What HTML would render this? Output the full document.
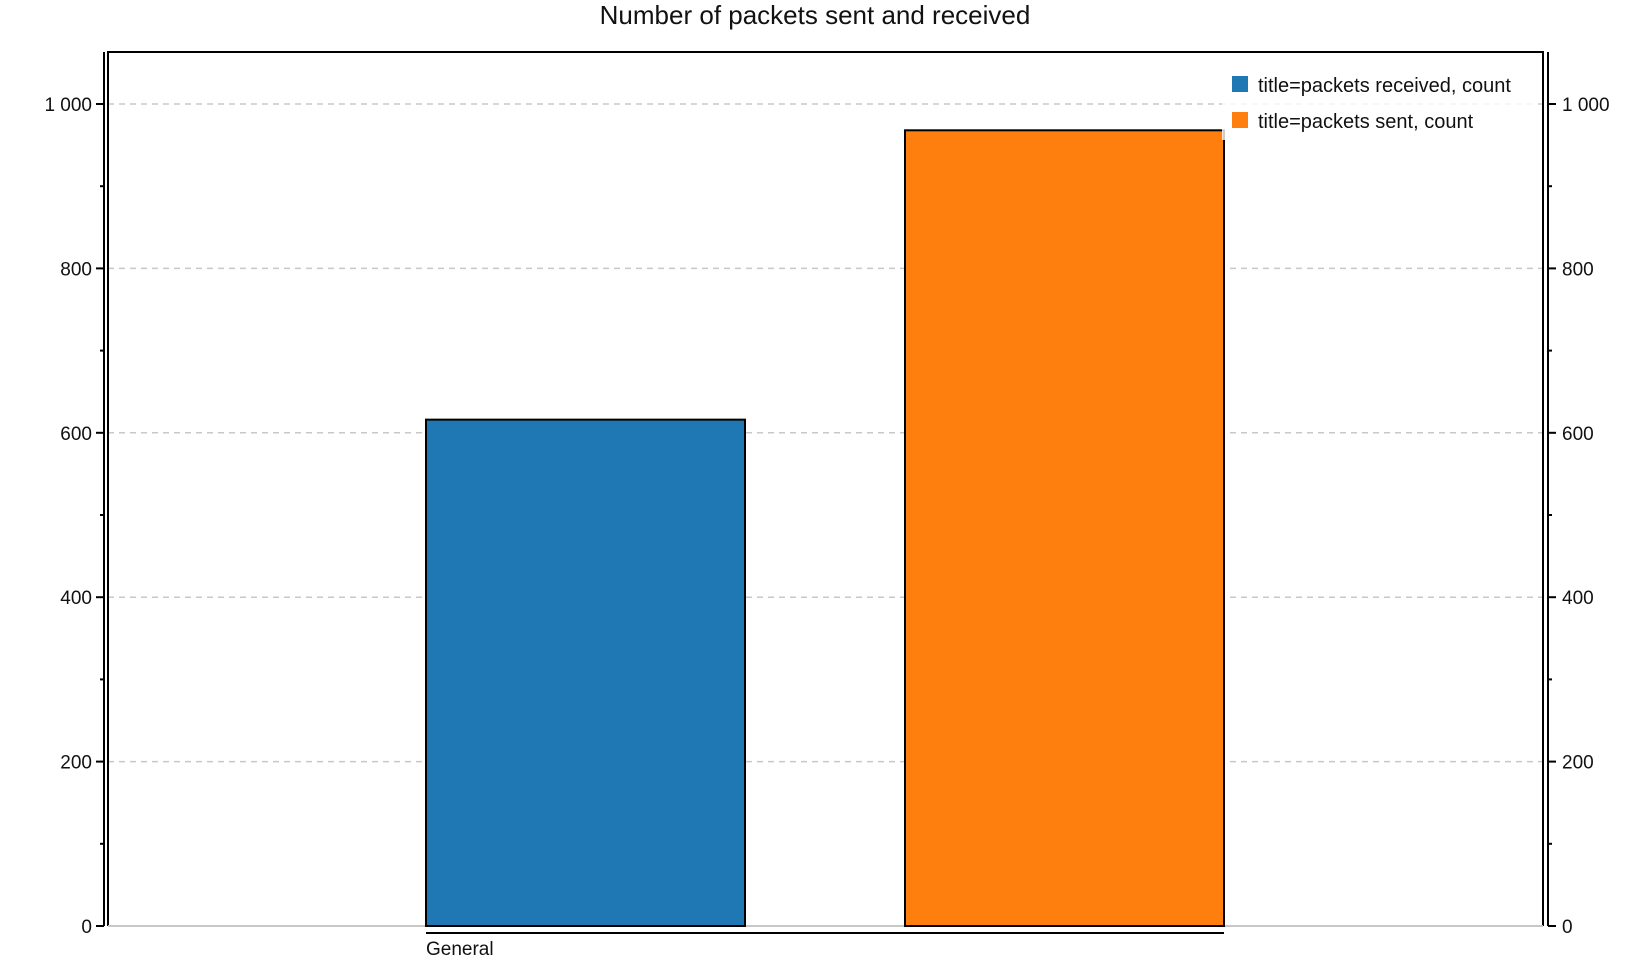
<!DOCTYPE html>
<html><head><meta charset="utf-8"><style>
html,body{margin:0;padding:0;background:#fff;}
svg{display:block;font-family:"Liberation Sans",Arial,sans-serif;}
</style></head><body>
<svg id="chart" width="1630" height="964">
<text x="815" y="24" text-anchor="middle" font-size="26" fill="#111">Number of packets sent and received</text>
<g id="grid"></g><g id="axes"></g><g id="bars"></g>
<g id="legend"></g>
</svg>
<script>
const categories = ["General"];
const seriesNames = ["title=packets received, count", "title=packets sent, count"];
const seriesColors = ["#1f77b4", "#ff7f0e"];
const receivedValues = [616];
const sentValues = [968];
const yTicks = [0, 200, 400, 600, 800, 1000];
const yTickLabels = ["0", "200", "400", "600", "800", "1 000"];

const NS = "http://www.w3.org/2000/svg";
const top0 = 52, y0 = 926, yMaxPx = 104, yMaxVal = 1000;
const left = 108, right = 1543;
function y(v){ return y0 - (v / yMaxVal) * (y0 - yMaxPx); }
function mk(tag, attrs, parent){ const e = document.createElementNS(NS, tag); for (const k in attrs) e.setAttribute(k, attrs[k]); parent.appendChild(e); return e; }
const grid = document.getElementById('grid'), axes = document.getElementById('axes'), bars = document.getElementById('bars'), legend = document.getElementById('legend');

yTicks.forEach((t, i) => {
  if (t > 0) {
    const g = mk('line', {x1: left, x2: right, y1: y(t), y2: y(t), stroke: '#c8c8c8', 'stroke-width': 1.5, 'stroke-dasharray': '6,5'}, grid);
    
    
  }
  mk('line', {x1: 96, x2: 104, y1: y(t), y2: y(t), stroke: '#000', 'stroke-width': 2}, axes);
  mk('line', {x1: 1548, x2: 1556, y1: y(t), y2: y(t), stroke: '#000', 'stroke-width': 2}, axes);
  const l = mk('text', {x: 92, y: y(t) + 7, 'text-anchor': 'end', 'font-size': 19, fill: '#111'}, axes);
  l.textContent = yTickLabels[i];
  
  
  const r = mk('text', {x: 1562, y: y(t) + 7, 'font-size': 19, fill: '#111'}, axes);
  r.textContent = yTickLabels[i];
  
  
});
for (let t = 100; t < 1100; t += 200) {
  mk('line', {x1: 100, x2: 104, y1: y(t), y2: y(t), stroke: '#000', 'stroke-width': 2}, axes);
  mk('line', {x1: 1548, x2: 1552, y1: y(t), y2: y(t), stroke: '#000', 'stroke-width': 2}, axes);
}
mk('line', {x1: 104, x2: 104, y1: top0, y2: y0, stroke: '#000', 'stroke-width': 2}, axes);
mk('line', {x1: 1548, x2: 1548, y1: top0, y2: y0, stroke: '#000', 'stroke-width': 2}, axes);
mk('polyline', {points: `${left},${y0} ${left},${top0} ${right},${top0} ${right},${y0}`, fill: 'none', stroke: '#000', 'stroke-width': 2}, axes);
mk('line', {x1: left, x2: right, y1: y0, y2: y0, stroke: '#c8c8c8', 'stroke-width': 2}, axes);

const barW = 319, x0s = [426, 905];
[receivedValues, sentValues].forEach((vals, s) => {
  vals.forEach(v => {
    const b = mk('rect', {x: x0s[s], y: y(v), width: barW, height: y0 - y(v), fill: seriesColors[s], stroke: '#000', 'stroke-width': 2}, bars);
    
    
  });
});
mk('line', {x1: 426, x2: 1224, y1: 933, y2: 933, stroke: '#000', 'stroke-width': 2}, axes);
const cat = mk('text', {x: 426, y: 955, 'font-size': 19, fill: '#111'}, axes);
cat.textContent = categories[0];



mk('rect', {x: 1222, y: 60, width: 316, height: 80, fill: '#fff', opacity: 0.8}, legend);
seriesNames.forEach((n, i) => {
  const sw = mk('rect', {x: 1232, y: 76 + i * 36, width: 16, height: 16, fill: seriesColors[i]}, legend);
  
  
  const t = mk('text', {x: 1258, y: 92 + i * 36, 'font-size': 20, fill: '#111'}, legend);
  t.textContent = n;
  
  
});
</script>
</body></html>
